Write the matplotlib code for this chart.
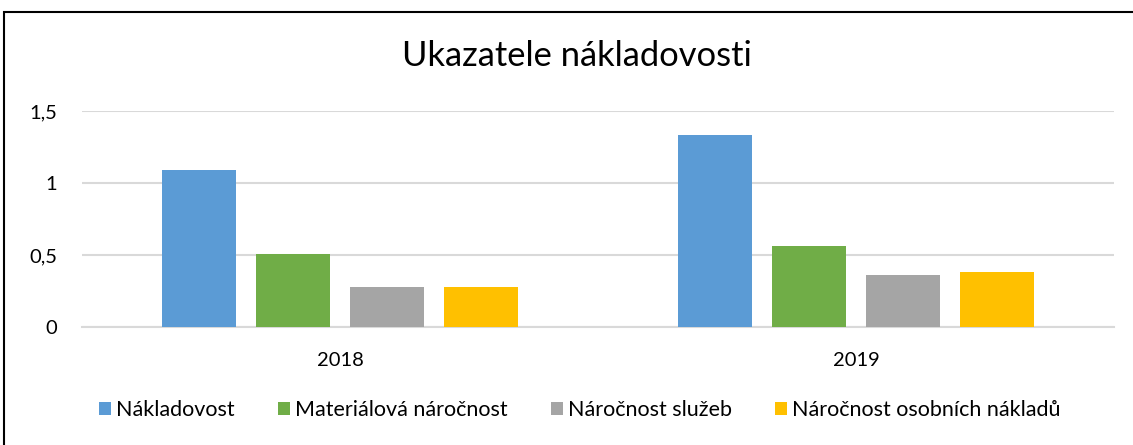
import matplotlib
matplotlib.use("Agg")
import matplotlib.pyplot as plt
import numpy as np
from matplotlib.ticker import FuncFormatter
from matplotlib.patches import Rectangle

plt.rcParams['font.family'] = ['Lato', 'DejaVu Sans']

years = ["2018", "2019"]
series = ["Nákladovost", "Materiálová náročnost", "Náročnost služeb", "Náročnost osobních nákladů"]
nakladovost = [1.09, 1.33]
materialova = [0.51, 0.56]
sluzby = [0.28, 0.36]
osobni = [0.28, 0.38]
colors = ["#5B9BD5", "#70AD47", "#A5A5A5", "#FFC000"]

fig = plt.figure(figsize=(11.33, 4.45), dpi=100)
ax = fig.add_axes([0.0724, 0.2652, 0.9108, 0.4854])

x = np.arange(len(years))
pitch = 0.182
width = 0.143
for i, (vals, name) in enumerate(zip([nakladovost, materialova, sluzby, osobni], series)):
    ax.bar(x + (i - 1.5) * pitch, vals, width, color=colors[i], label=name, zorder=3)

ax.set_xlim(-0.5, 1.5)
ax.set_ylim(0, 1.5)
ax.set_yticks([0, 0.5, 1, 1.5])
ax.yaxis.set_major_formatter(FuncFormatter(lambda v, p: f"{v:g}".replace(".", ",")))
ax.set_xticks(x)
ax.set_xticklabels(years)
ax.grid(axis="y", color="#d9d9d9", linewidth=1.5, zorder=0)
ax.set_axisbelow(True)
for s in ["top", "right", "left"]:
    ax.spines[s].set_visible(False)
ax.spines["bottom"].set_color("#d9d9d9")
ax.spines["bottom"].set_linewidth(1.5)
ax.tick_params(axis="both", length=0, labelsize=14.5, colors="black")
ax.tick_params(axis="y", pad=18)
ax.tick_params(axis="x", pad=18)

fig.text(0.509, 0.874, "Ukazatele nákladovosti", ha="center", va="center", fontsize=24.8)

fig.legend(loc="center", bbox_to_anchor=(0.512, 0.079), ncol=4, frameon=False,
           fontsize=15.5, handlelength=0.55, handleheight=0.55, handletextpad=0.25,
           columnspacing=2.0)

fig.patches.append(Rectangle((4 / 1133, -0.05), 1.2, 1 - 12 / 445 + 0.05,
                             transform=fig.transFigure, fill=False,
                             edgecolor="black", linewidth=1.5))

fig.savefig("out.png", dpi=100)
